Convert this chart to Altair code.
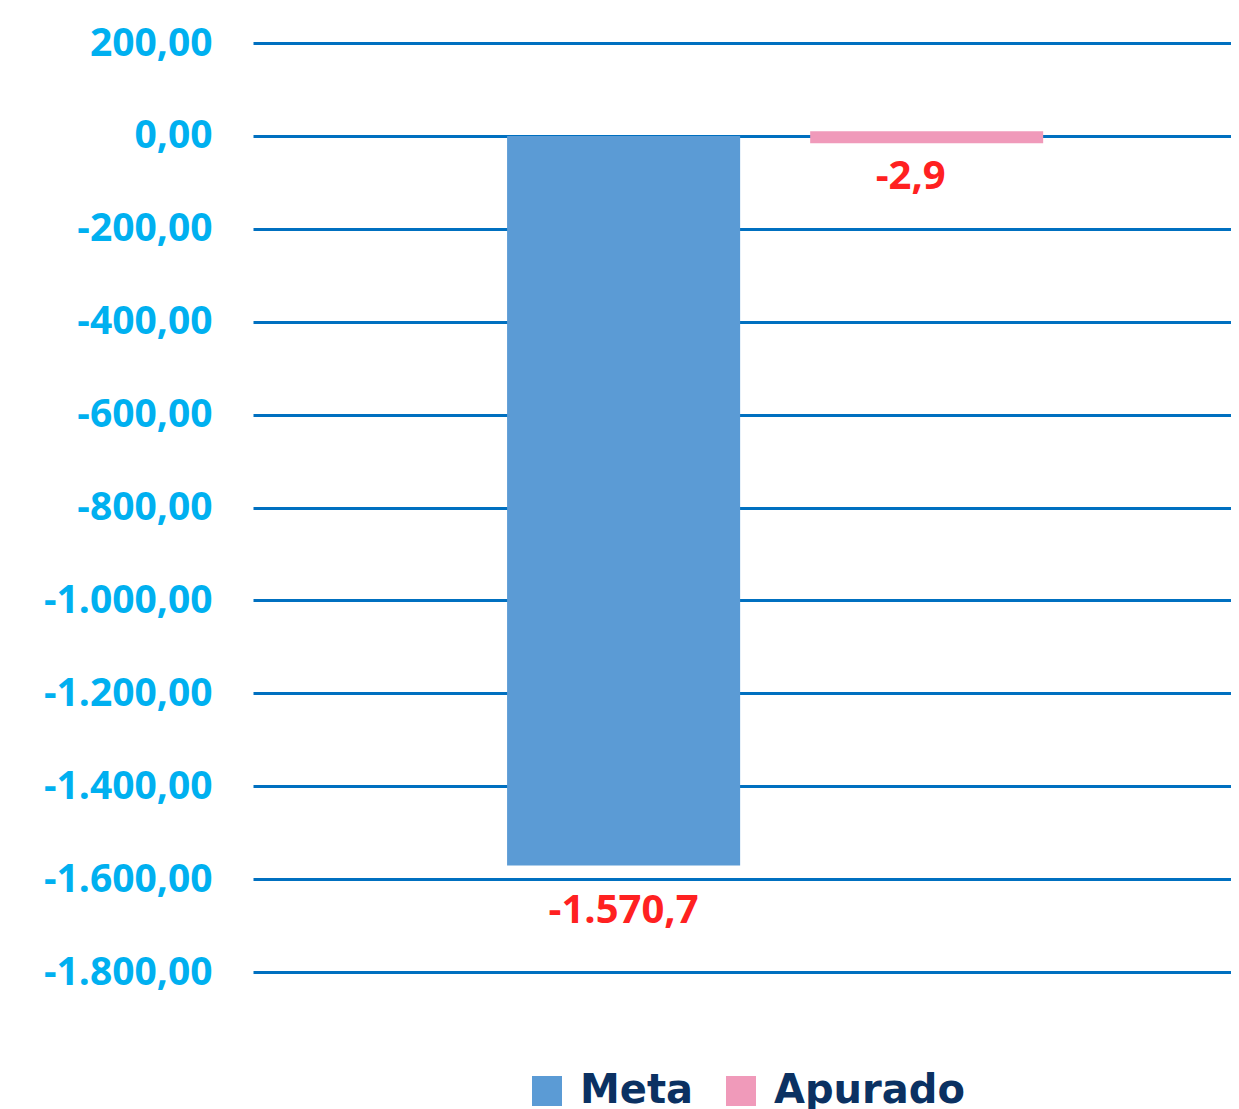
import altair as alt
import pandas as pd

series = ["Meta", "Apurado"]
values = [-1570.7, -2.9]
value_labels = ["-1.570,7", "-2,9"]
y_ticks = [200, 0, -200, -400, -600, -800, -1000, -1200, -1400, -1600, -1800]
colors = ["#5B9BD5", "#F09ABA"]

df = pd.DataFrame({"serie": series, "valor": values, "rotulo": value_labels})

x_scale = alt.Scale(domain=series, paddingInner=0.231, paddingOuter=0.729, align=0.575)
y_scale = alt.Scale(domain=[-1800, 200], nice=False, zero=False)

label_expr = ("replace(replace(replace(replace(format(datum.value, ',.2f'), ',', '_'), '.', ','), '_', '.'), '\u2212', '-')")

x_enc = alt.X("serie:N", scale=x_scale, axis=None, sort=series)
y_axis = alt.Axis(
    values=y_ticks, title=None, domain=False, ticks=False,
    labelFont="Open Sans", labelFontWeight="bold", labelFontSize=39,
    labelColor="#00B0F0", labelPadding=41, labelExpr=label_expr,
    grid=True, gridColor="#0070C0", gridWidth=3,
    minExtent=245, maxExtent=245,
)
color_enc = alt.Color(
    "serie:N",
    scale=alt.Scale(domain=series, range=colors),
    sort=series,
    legend=alt.Legend(
        title=None, orient="none", legendX=274, legendY=1028,
        direction="horizontal", symbolType="square", symbolSize=900,
        symbolStrokeWidth=0, labelFont="DejaVu Sans", labelFontWeight="bold",
        labelFontSize=40, labelColor="#0B3162", labelOffset=13,
        columnPadding=27, labelLimit=400,
    ),
)

base = alt.Chart(df)

bars = base.transform_filter(alt.datum.serie == "Meta").mark_bar().encode(
    x=x_enc,
    y=alt.Y("valor:Q", scale=y_scale, axis=y_axis),
    y2=alt.datum(0),
    color=color_enc,
)

ticks = base.transform_filter(alt.datum.serie == "Apurado").mark_tick(
    thickness=12, size=233, opacity=1
).encode(
    x=x_enc,
    y=alt.Y("valor:Q", scale=y_scale),
    color=color_enc,
)

text_meta = base.transform_filter(alt.datum.serie == "Meta").mark_text(
    font="Open Sans", fontWeight="bold", fontSize=40, color="#FF2121",
    baseline="middle", dy=46,
).encode(x=x_enc, y=alt.Y("valor:Q", scale=y_scale), text="rotulo:N")

text_ap = base.transform_filter(alt.datum.serie == "Apurado").mark_text(
    font="Open Sans", fontWeight="bold", fontSize=40, color="#FF2121",
    baseline="middle", dy=40, dx=-16,
).encode(x=x_enc, y=alt.Y("valor:Q", scale=y_scale), text="rotulo:N")

chart = alt.layer(bars, ticks, text_meta, text_ap).properties(
    width=978, height=929,
    padding={"left": 245, "top": 35, "right": 0, "bottom": 137},
    autosize=alt.AutoSizeParams(type="none"),
).configure_view(stroke=None)

chart.save("out.html", embed_options={"renderer": "svg", "actions": False})
